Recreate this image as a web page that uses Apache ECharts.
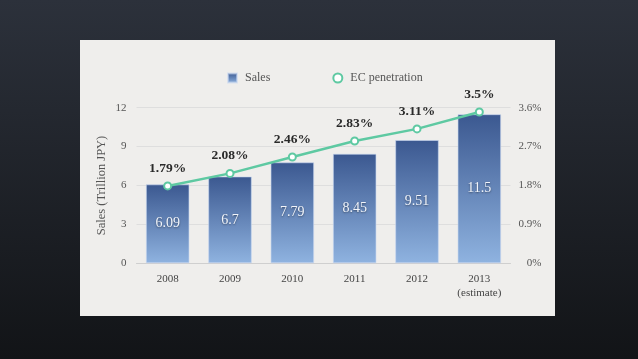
<!DOCTYPE html>
<html><head><meta charset="utf-8">
<script src="https://cdn.jsdelivr.net/npm/echarts@6/dist/echarts.min.js"></script>
<style>html,body{margin:0;padding:0;background:#1c1f25;}#c{width:638px;height:359px;}</style>
</head><body><div id="c"></div>
<script>
const categories = ['2008', '2009', '2010', '2011', '2012', '2013\n(estimate)'];
const sales = [6.09, 6.7, 7.79, 8.45, 9.51, 11.5];
const penetration = [1.79, 2.08, 2.46, 2.83, 3.11, 3.5];
const leftTicks = [0, 3, 6, 9, 12];
const rightTicks = [0, 0.9, 1.8, 2.7, 3.6];

const serif = '"Liberation Serif", "DejaVu Serif", serif';
const chart = echarts.init(document.getElementById('c'), null, {renderer: 'canvas'});
chart.setOption({
  animation: false,
  backgroundColor: {
    type: 'linear', x: 0, y: 0, x2: 0, y2: 1,
    colorStops: [{offset: 0, color: '#2c313b'}, {offset: 1, color: '#121417'}]
  },
  graphic: [{
    type: 'rect', z: -10, silent: true,
    shape: {x: 80, y: 40, width: 475, height: 276},
    style: {fill: '#efeeec'}
  }],
  grid: {left: 136.5, right: 127.5, top: 107.7, bottom: 95.7, containLabel: false},
  legend: {
    left: 222, top: 67, itemWidth: 9, itemHeight: 9, itemGap: 62,
    textStyle: {fontFamily: serif, fontSize: 12, color: '#555', padding: [0, 0, 0, 3]},
    data: [{name: 'Sales', icon: 'rect'}, {name: 'EC penetration', icon: 'emptyCircle'}]
  },
  xAxis: {
    type: 'category', data: categories,
    axisTick: {show: false},
    axisLine: {lineStyle: {color: '#cfcfcf'}},
    axisLabel: {fontFamily: serif, fontSize: 11, color: '#444', margin: 9, lineHeight: 14}
  },
  yAxis: [{
    type: 'value', min: leftTicks[0], max: leftTicks[leftTicks.length - 1], interval: leftTicks[1] - leftTicks[0],
    name: 'Sales (Trillion JPY)', nameLocation: 'middle', nameGap: 28, nameMoveOverlap: false,
    nameTextStyle: {fontFamily: serif, fontSize: 12.5, color: '#555'},
    axisLabel: {fontFamily: serif, fontSize: 11, color: '#555', margin: 10},
    splitLine: {lineStyle: {color: '#dedede'}},
    axisLine: {show: false}, axisTick: {show: false}
  }, {
    type: 'value', min: rightTicks[0], max: rightTicks[rightTicks.length - 1], interval: rightTicks[1] - rightTicks[0],
    position: 'right',
    axisLabel: {fontFamily: serif, fontSize: 11, color: '#555', margin: 31, align: 'right',
      formatter: v => (v === 0 ? '0' : (Math.round(v * 10) / 10).toFixed(1)) + '%'},
    splitLine: {show: false}, axisLine: {show: false}, axisTick: {show: false}
  }],
  series: [{
    name: 'Sales', type: 'bar', data: sales, barCategoryGap: '30%',
    itemStyle: {
      color: {type: 'linear', x: 0, y: 0, x2: 0, y2: 1,
        colorStops: [{offset: 0, color: '#3b5890'}, {offset: 1, color: '#8fb3e0'}]},
      borderColor: 'rgba(200,215,240,0.6)', borderWidth: 1
    },
    label: {show: true, position: 'inside', fontFamily: serif, fontSize: 14, color: '#f2f5fb',
      textShadowColor: 'rgba(0,0,0,0.45)', textShadowBlur: 2, textShadowOffsetY: 1}
  }, {
    name: 'EC penetration', type: 'line', yAxisIndex: 1, data: penetration,
    symbol: 'emptyCircle', symbolSize: 7,
    lineStyle: {color: '#5ec9a2', width: 2.5},
    itemStyle: {color: '#5ec9a2', borderWidth: 2},
    label: {show: true, position: 'top', distance: 6, fontFamily: serif, fontSize: 13.5, fontWeight: 'bold', color: '#2a2a2a',
      formatter: p => p.value + '%'}
  }]
});
</script></body></html>
